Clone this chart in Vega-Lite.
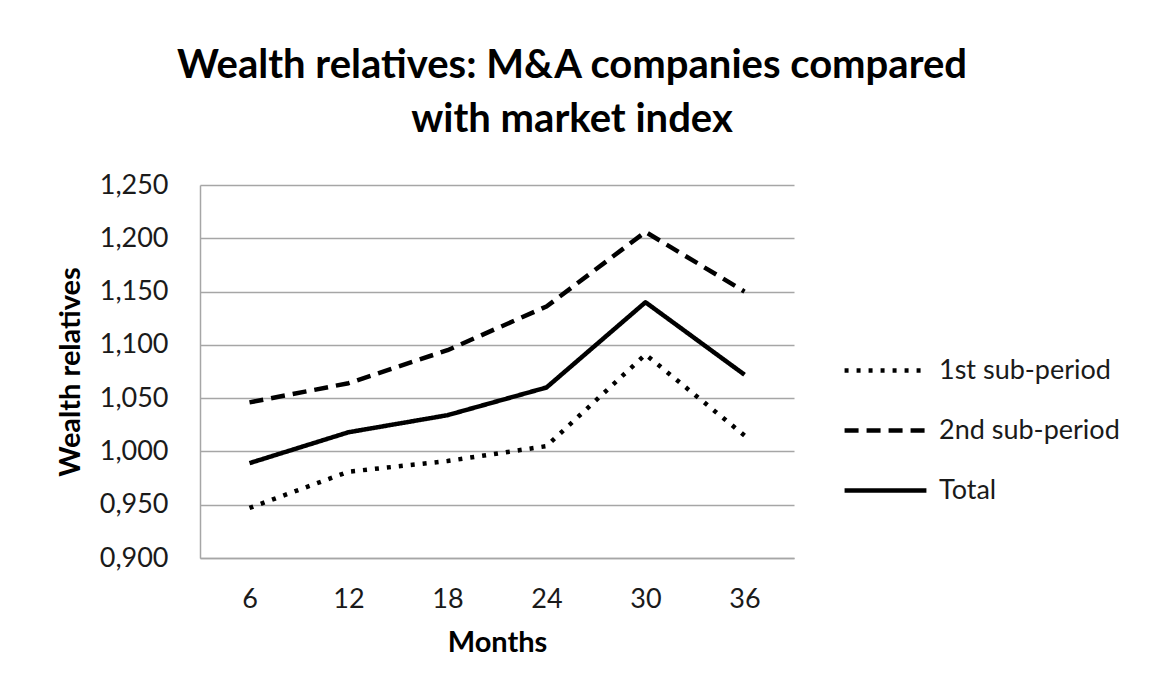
{
  "$schema": "https://vega.github.io/schema/vega-lite/v6.json",
  "width": 594,
  "height": 373,
  "autosize": {"type": "none"},
  "padding": {"left": 200, "top": 185, "right": 369, "bottom": 142},
  "background": "white",
  "title": {
    "text": ["Wealth relatives: M&A companies compared", "with market index"],
    "font": "Lato",
    "fontSize": 40,
    "fontWeight": "bold",
    "color": "#000000",
    "lineHeight": 54,
    "anchor": "middle",
    "frame": "group",
    "dx": 75,
    "offset": 31
  },
  "config": {
    "view": {"stroke": null},
    "font": "Lato"
  },
  "data": {
    "values": [
      {"Months": "6", "Series": "1st sub-period", "Value": 0.947},
      {"Months": "12", "Series": "1st sub-period", "Value": 0.981},
      {"Months": "18", "Series": "1st sub-period", "Value": 0.991},
      {"Months": "24", "Series": "1st sub-period", "Value": 1.005},
      {"Months": "30", "Series": "1st sub-period", "Value": 1.091},
      {"Months": "36", "Series": "1st sub-period", "Value": 1.015},
      {"Months": "6", "Series": "2nd sub-period", "Value": 1.046},
      {"Months": "12", "Series": "2nd sub-period", "Value": 1.064},
      {"Months": "18", "Series": "2nd sub-period", "Value": 1.095},
      {"Months": "24", "Series": "2nd sub-period", "Value": 1.136},
      {"Months": "30", "Series": "2nd sub-period", "Value": 1.206},
      {"Months": "36", "Series": "2nd sub-period", "Value": 1.150},
      {"Months": "6", "Series": "Total", "Value": 0.989},
      {"Months": "12", "Series": "Total", "Value": 1.018},
      {"Months": "18", "Series": "Total", "Value": 1.034},
      {"Months": "24", "Series": "Total", "Value": 1.060},
      {"Months": "30", "Series": "Total", "Value": 1.140},
      {"Months": "36", "Series": "Total", "Value": 1.072}
    ]
  },
  "mark": {"type": "line", "color": "#000000", "strokeWidth": 4.5, "strokeCap": "butt", "strokeJoin": "round"},
  "encoding": {
    "x": {
      "field": "Months",
      "type": "ordinal",
      "sort": ["6", "12", "18", "24", "30", "36"],
      "scale": {"type": "point", "padding": 0.5},
      "axis": {
        "title": "Months",
        "titleFont": "Lato",
        "titleFontSize": 29,
        "titleFontWeight": "bold",
        "titleColor": "#000000",
        "titlePadding": 16,
        "labelFont": "Lato",
        "labelFontSize": 27,
        "labelColor": "#1a1a1a",
        "labelAngle": 0,
        "labelPadding": 28,
        "ticks": false,
        "domainColor": "#a6a6a6",
        "domainWidth": 1.5,
        "grid": false
      }
    },
    "y": {
      "field": "Value",
      "type": "quantitative",
      "scale": {"domain": [0.9, 1.25], "nice": false, "zero": false},
      "axis": {
        "title": "Wealth relatives",
        "titleFont": "Lato",
        "titleFontSize": 29,
        "titleFontWeight": "bold",
        "titleColor": "#000000",
        "titlePadding": 14,
        "labelFont": "Lato",
        "labelFontSize": 27,
        "labelColor": "#1a1a1a",
        "labelPadding": 32,
        "values": [0.9, 0.95, 1.0, 1.05, 1.1, 1.15, 1.2, 1.25],
        "labelExpr": "replace(format(datum.value, '.3f'), '.', ',')",
        "ticks": false,
        "domainColor": "#a6a6a6",
        "domainWidth": 1.5,
        "grid": true,
        "gridColor": "#a6a6a6",
        "gridWidth": 1.5
      }
    },
    "strokeDash": {
      "field": "Series",
      "type": "nominal",
      "scale": {
        "domain": ["1st sub-period", "2nd sub-period", "Total"],
        "range": [[4, 8], [14, 8], [1, 0]]
      },
      "legend": {
        "title": null,
        "orient": "none",
        "legendX": 642,
        "legendY": 142,
        "labelFont": "Lato",
        "labelFontSize": 27,
        "labelColor": "#1a1a1a",
        "labelOffset": 10,
        "labelLimit": 400,
        "symbolType": "stroke",
        "symbolSize": 6700,
        "symbolStrokeWidth": 4.5,
        "symbolStrokeColor": "#000000",
        "rowPadding": 3
      }
    }
  }
}
